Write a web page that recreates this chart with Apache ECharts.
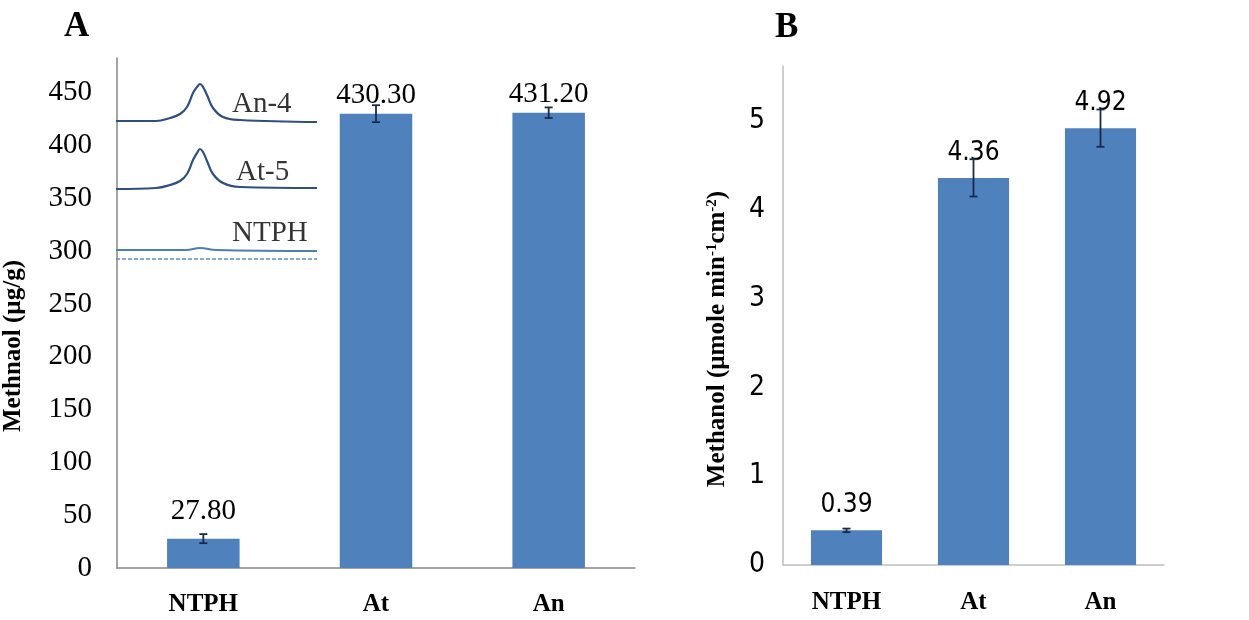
<!DOCTYPE html>
<html>
<head>
<meta charset="utf-8">
<script src="https://cdn.jsdelivr.net/npm/echarts@6/dist/echarts.min.js"></script>
<style>html,body{margin:0;padding:0;background:#fff;}#main{width:1249px;height:620px;}</style>
</head>
<body>
<div id="main"></div>
<script>
// ---- Data ----
const categoriesA = ['NTPH', 'At', 'An'];
const valuesA = [27.80, 430.30, 431.20];
const errorsA = [4.3, 8, 5];

const categoriesB = ['NTPH', 'At', 'An'];
const valuesB = [0.39, 4.36, 4.92];
const errorsB = [0.02, 0.21, 0.21];

// inset chromatogram traces (relative units)
const insetX = [0, 40, 54, 64, 71, 77, 81, 84, 87, 91, 97, 107, 124, 201];
const traceAn4 = [149, 149, 152, 156, 163, 177, 183, 186, 183, 175, 162, 153, 150, 148];
const traceAt5 = [81, 82, 85, 89, 96, 110, 117, 121, 118, 109, 96, 87, 83, 82];
const ntphX = [0, 70, 84, 100, 201];
const traceNTPH = [20, 20, 22, 20, 19];
const baseX = [0, 201];
const traceBase = [11, 11];
const insetLabels = [['An-4', 116, 166], ['At-5', 120, 98], ['NTPH', 116, 37]];

// ---- Styling ----
const SERIF = '"Liberation Serif", "Times New Roman", serif';
const NARROW = '"Liberation Sans Narrow", "Arial Narrow", "DejaVu Sans Condensed", "Liberation Sans", sans-serif';
const BAR = '#4f81bd';
const ERR = '#1c2a4a';
const LINE = '#2f4f82';

function zip(xs, ys) { return xs.map((x, i) => [x, ys[i]]); }

function errRender(capW) {
  return function (params, api) {
    const x = api.value(0), v = api.value(1), e = api.value(2);
    const top = api.coord([x, v + e]);
    const bot = api.coord([x, v - e]);
    const st = { stroke: ERR, lineWidth: 1.8 };
    return {
      type: 'group',
      children: [
        { type: 'line', shape: { x1: top[0], y1: top[1], x2: bot[0], y2: bot[1] }, style: st },
        { type: 'line', shape: { x1: top[0] - capW, y1: top[1], x2: top[0] + capW, y2: top[1] }, style: st },
        { type: 'line', shape: { x1: bot[0] - capW, y1: bot[1], x2: bot[0] + capW, y2: bot[1] }, style: st }
      ]
    };
  };
}

const labelDistA = [13, 4, 4];

const option = {
  animation: false,
  backgroundColor: '#ffffff',
  graphic: [
    { type: 'text', left: 64, top: 9, style: { text: 'A', font: 'bold 35px ' + SERIF, fill: '#000' } },
    { type: 'text', left: 775, top: 10, style: { text: 'B', font: 'bold 35px ' + SERIF, fill: '#000' } }
  ],
  grid: [
    { left: 116, top: 58, width: 519, height: 510 },
    { left: 116, top: 70, width: 201, height: 200 },
    { left: 783, top: 66, width: 381, height: 499 }
  ],
  xAxis: [
    {
      type: 'category', gridIndex: 0, data: categoriesA,
      axisLine: { lineStyle: { color: '#868686', width: 1.5 } },
      axisTick: { show: false },
      axisLabel: { color: '#000', fontFamily: SERIF, fontWeight: 'bold', fontSize: 25, margin: 24 }
    },
    { type: 'value', gridIndex: 1, min: 0, max: 201, show: false },
    {
      type: 'category', gridIndex: 2, data: categoriesB,
      axisLine: { lineStyle: { color: '#bdbdbd', width: 1.5 } },
      axisTick: { show: false },
      axisLabel: { color: '#000', fontFamily: SERIF, fontWeight: 'bold', fontSize: 25, margin: 25 }
    }
  ],
  yAxis: [
    {
      type: 'value', gridIndex: 0, min: 0, max: 483, interval: 50,
      name: 'Methnaol (µg/g)', nameLocation: 'middle', nameRotate: 90, nameGap: 91,
      nameTextStyle: { color: '#000', fontFamily: SERIF, fontWeight: 'bold', fontSize: 25, padding: [0, 66, 0, 0] },
      axisLine: { show: true, lineStyle: { color: '#868686', width: 1.5 } },
      axisTick: { show: false },
      splitLine: { show: false },
      axisLabel: { color: '#000', fontFamily: SERIF, fontSize: 29, margin: 25, showMaxLabel: false }
    },
    { type: 'value', gridIndex: 1, min: 0, max: 200, show: false },
    {
      type: 'value', gridIndex: 2, min: 0, max: 5.62, interval: 1,
      name: 'Methanol (µmole min{sup|-1}cm{sup|-2})', nameLocation: 'middle', nameRotate: 90, nameGap: 53,
      nameTextStyle: {
        color: '#000', fontFamily: SERIF, fontWeight: 'bold', fontSize: 25, padding: [0, 47, 0, 0],
        rich: { sup: { fontFamily: SERIF, fontWeight: 'bold', fontSize: 15, color: '#000', verticalAlign: 'top', padding: [0, 0, 10, 0] } }
      },
      axisLine: { show: true, lineStyle: { color: '#bdbdbd', width: 1.5 } },
      axisTick: { show: false },
      splitLine: { show: false },
      axisLabel: { color: '#000', fontFamily: NARROW, fontSize: 28, margin: 18, showMaxLabel: false }
    }
  ],
  series: [
    {
      type: 'bar', xAxisIndex: 0, yAxisIndex: 0, barWidth: '42%',
      itemStyle: { color: BAR },
      data: valuesA.map((v, i) => ({
        value: v,
        label: { show: true, position: 'top', distance: labelDistA[i], formatter: () => v.toFixed(2),
                 color: '#000', fontFamily: SERIF, fontSize: 29 }
      }))
    },
    {
      type: 'custom', xAxisIndex: 0, yAxisIndex: 0, z: 5,
      renderItem: errRender(4),
      data: valuesA.map((v, i) => [i, v, errorsA[i]])
    },
    {
      type: 'bar', xAxisIndex: 2, yAxisIndex: 2, barWidth: '56%',
      itemStyle: { color: BAR },
      label: { show: true, position: 'top', distance: 12, formatter: p => p.value.toFixed(2),
               color: '#000', fontFamily: NARROW, fontSize: 26 },
      data: valuesB
    },
    {
      type: 'custom', xAxisIndex: 2, yAxisIndex: 2, z: 5,
      renderItem: errRender(4),
      data: valuesB.map((v, i) => [i, v, errorsB[i]])
    },
    {
      type: 'line', xAxisIndex: 1, yAxisIndex: 1, smooth: 0.4, symbol: 'none',
      lineStyle: { color: LINE, width: 2.2 }, data: zip(insetX, traceAn4)
    },
    {
      type: 'line', xAxisIndex: 1, yAxisIndex: 1, smooth: 0.4, symbol: 'none',
      lineStyle: { color: LINE, width: 2.2 }, data: zip(insetX, traceAt5)
    },
    {
      type: 'line', xAxisIndex: 1, yAxisIndex: 1, smooth: 0.4, symbol: 'none',
      lineStyle: { color: '#4a80b4', width: 2 }, data: zip(ntphX, traceNTPH)
    },
    {
      type: 'line', xAxisIndex: 1, yAxisIndex: 1, symbol: 'none',
      lineStyle: { color: '#5a8fc4', width: 1.5, type: [4, 2] }, data: zip(baseX, traceBase)
    },
    {
      type: 'scatter', xAxisIndex: 1, yAxisIndex: 1, symbolSize: 0,
      label: { show: true, position: 'right', distance: 0, formatter: p => p.value[2],
               color: '#000', fontFamily: SERIF, fontSize: 29 },
      data: insetLabels.map(d => [d[1], d[2], d[0]])
    }
  ]
};

const chart = echarts.init(document.getElementById('main'), null, { renderer: 'canvas' });
chart.setOption(option);
</script>
</body>
</html>
